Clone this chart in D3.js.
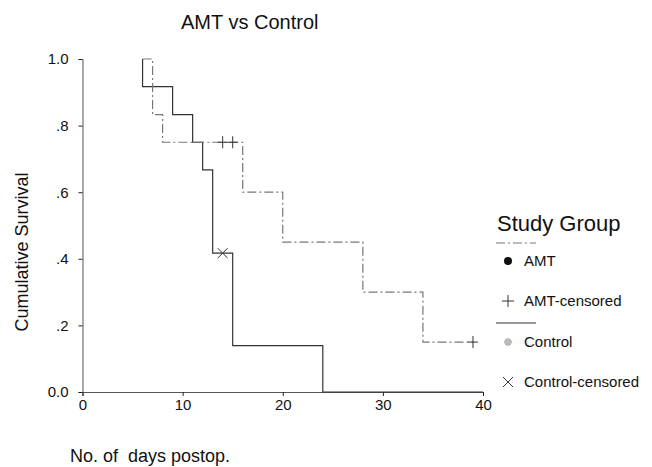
<!DOCTYPE html>
<html>
<head>
<meta charset="utf-8">
<script src="https://cdn.jsdelivr.net/npm/d3@7"></script>
<style>
  body { margin: 0; background: #fff; }
  text { font-family: "Liberation Sans", Arial, sans-serif; fill: #111; }
</style>
</head>
<body>
<div id="chart"></div>
<script>
// Kaplan-Meier steps
var amtTime = [6, 7, 8, 16, 20, 28, 34, 39];
var amtSurv = [1.0, 0.833, 0.75, 0.60, 0.45, 0.30, 0.15, 0.15];
var amtCensorTime = [14, 15, 39];
var amtCensorSurv = [0.75, 0.75, 0.15];

var controlTime = [6, 6, 9, 11, 12, 13, 15, 24, 40];
var controlSurv = [1.0, 0.917, 0.833, 0.75, 0.667, 0.417, 0.139, 0, 0];
var controlCensorTime = [14];
var controlCensorSurv = [0.417];

var xTicks = [0, 10, 20, 30, 40];
var yTicks = [0, 0.2, 0.4, 0.6, 0.8, 1.0];
var yTickLabels = ['0.0', '.2', '.4', '.6', '.8', '1.0'];
var legendLabels = ['AMT', 'AMT-censored', 'Control', 'Control-censored'];

var width = 652, height = 467;
var svg = d3.select('#chart').append('svg')
    .attr('width', width)
    .attr('height', height);

svg.append('rect').attr('width', width).attr('height', height).attr('fill', '#fff');

var x = d3.scaleLinear().domain([0, 40]).range([82.5, 483]);
var y = d3.scaleLinear().domain([0, 1]).range([392, 59]);

// axes
var axisColor = '#555';
var gx = svg.append('g')
    .attr('transform', 'translate(0,392)')
    .call(d3.axisBottom(x).tickValues(xTicks).tickSize(4).tickPadding(3));
var gy = svg.append('g')
    .attr('transform', 'translate(82.5,0)')
    .call(d3.axisLeft(y).tickValues(yTicks).tickSize(4).tickPadding(10)
        .tickFormat(function(d, i){ return yTickLabels[i]; }));
[gx, gy].forEach(function(g){
    g.select('.domain').attr('stroke', axisColor);
    g.selectAll('.tick line').attr('stroke', '#222');
    g.selectAll('.tick text')
        .style('font-family', '"Liberation Sans", Arial, sans-serif')
        .style('font-size', '15px')
        .attr('fill', '#111');
});

// step curves
var line = d3.line()
    .x(function(d){ return x(d[0]); })
    .y(function(d){ return y(d[1]); })
    .curve(d3.curveStepAfter);

var amtPts = amtTime.map(function(t, i){ return [t, amtSurv[i]]; });
var ctlPts = controlTime.map(function(t, i){ return [t, controlSurv[i]]; });

svg.append('path')
    .datum(ctlPts)
    .attr('fill', 'none')
    .attr('stroke', '#333')
    .attr('stroke-width', 1.2)
    .attr('d', line);

svg.append('path')
    .datum(amtPts)
    .attr('fill', 'none')
    .attr('stroke', '#777')
    .attr('stroke-width', 1.2)
    .attr('stroke-dasharray', '9,3,2,3')
    .attr('d', line);

// censor marks
amtCensorTime.forEach(function(t, i){
    var cx = x(t), cy = y(amtCensorSurv[i]);
    svg.append('line')
        .attr('x1', cx).attr('x2', cx)
        .attr('y1', cy - 6).attr('y2', cy + 6)
        .attr('stroke', '#333').attr('stroke-width', 1);
    svg.append('line')
        .attr('x1', cx - 5).attr('x2', cx + 5)
        .attr('y1', cy).attr('y2', cy)
        .attr('stroke', '#333').attr('stroke-width', 1);
});
controlCensorTime.forEach(function(t, i){
    var cx = x(t), cy = y(controlCensorSurv[i]);
    svg.append('path')
        .attr('d', 'M' + (cx - 5) + ',' + (cy - 5) + 'L' + (cx + 5) + ',' + (cy + 5) +
                   'M' + (cx - 5) + ',' + (cy + 5) + 'L' + (cx + 5) + ',' + (cy - 5))
        .attr('stroke', '#333').attr('stroke-width', 1).attr('fill', 'none');
});

// titles
svg.append('text')
    .attr('x', 181).attr('y', 29)
    .style('font-size', '20px')
    .text('AMT vs Control');

svg.append('text')
    .attr('transform', 'translate(28,252) rotate(-90)')
    .attr('text-anchor', 'middle')
    .style('font-size', '18px')
    .text('Cumulative Survival');

svg.append('text')
    .attr('x', 70).attr('y', 462)
    .style('font-size', '18px')
    .style('white-space', 'pre')
    .text('No. of  days postop.');

// legend
var lg = svg.append('g');
lg.append('text')
    .attr('x', 497).attr('y', 231)
    .style('font-size', '22px')
    .text('Study Group');

lg.append('line')
    .attr('x1', 496).attr('x2', 536).attr('y1', 243).attr('y2', 243)
    .attr('stroke', '#777').attr('stroke-width', 1.2)
    .attr('stroke-dasharray', '9,3,2,3');
lg.append('line')
    .attr('x1', 496).attr('x2', 536).attr('y1', 323).attr('y2', 323)
    .attr('stroke', '#333').attr('stroke-width', 1.2);

var itemY = [261, 301, 342, 382];
lg.append('circle').attr('cx', 508).attr('cy', itemY[0]).attr('r', 4).attr('fill', '#111');
lg.append('path')
    .attr('d', 'M502,' + itemY[1] + 'H514M508,' + (itemY[1] - 6) + 'V' + (itemY[1] + 6))
    .attr('stroke', '#333').attr('stroke-width', 1);
lg.append('circle').attr('cx', 508).attr('cy', itemY[2]).attr('r', 3.5)
    .attr('fill', '#bbb').attr('stroke', '#999').attr('stroke-width', 0.8)
    .attr('stroke-dasharray', '1,1');
lg.append('path')
    .attr('d', 'M503,' + (itemY[3] - 5) + 'L513,' + (itemY[3] + 5) +
               'M503,' + (itemY[3] + 5) + 'L513,' + (itemY[3] - 5))
    .attr('stroke', '#333').attr('stroke-width', 1).attr('fill', 'none');

lg.selectAll('text.item')
    .data(legendLabels)
    .enter()
    .append('text')
    .attr('class', 'item')
    .attr('x', 524)
    .attr('y', function(d, i){ return itemY[i] + 5; })
    .style('font-size', '15px')
    .text(function(d){ return d; });
</script>
</body>
</html>
